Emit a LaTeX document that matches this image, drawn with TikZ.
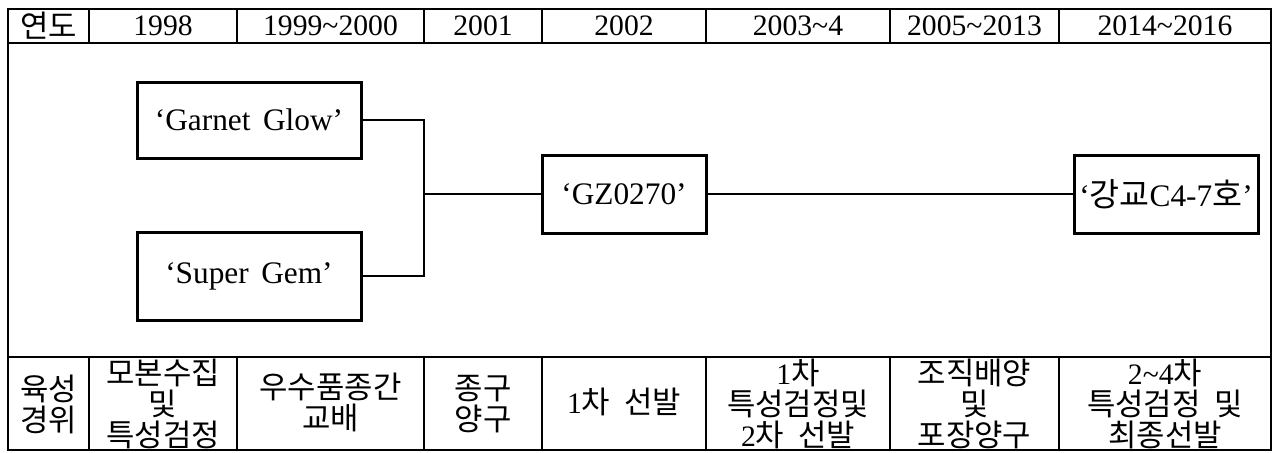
\documentclass[tikz,border=0pt]{standalone}
\usepackage{fontspec}
\setmainfont{Liberation Serif}
\newfontfamily\kr[Scale=1.04]{Noto Sans CJK KR}
\newcommand{\K}[1]{{\kr #1}}
\begin{document}
\begin{tikzpicture}[x=0.6pt,y=-0.6pt,
  grid/.style={line width=1.6pt},
  cell/.style={inner sep=0pt, align=center, font=\fontsize{17.8}{18.6}\selectfont},
  box/.style={draw, line width=1.8pt, inner sep=0pt, font=\fontsize{18.8}{20}\selectfont},
  link/.style={line width=1.6pt}]
\useasboundingbox (0,0) rectangle (1273,452);
% table frame
\draw[grid] (8,9) rectangle (1271,450);
\draw[grid] (8,43) -- (1271,43);
\draw[grid] (8,357) -- (1271,357);
\foreach \x in {89,237,424,542,706,890,1059} {
  \draw[grid] (\x,9) -- (\x,43);
  \draw[grid] (\x,357) -- (\x,450);
}
% header
\node[cell] (h0) at (48.5,26) {\K{연도}};
\node[cell] (h1) at (163,26) {1998};
\node[cell] (h2) at (330.5,26) {1999\textasciitilde2000};
\node[cell] (h3) at (483,26) {2001};
\node[cell] (h4) at (624,26) {2002};
\node[cell] (h5) at (798,26) {2003\textasciitilde4};
\node[cell] (h6) at (974.5,26) {2005\textasciitilde2013};
\node[cell] (h7) at (1165,26) {2014\textasciitilde2016};
% bottom row
\node[cell] (b0) at (48.5,404) {\K{육성}\\\K{경위}};
\node[cell] (b1) at (163,404) {\K{모본수집}\\\K{및}\\\K{특성검정}};
\node[cell] (b2) at (330.5,402) {\K{우수품종간}\\\K{교배}};
\node[cell] (b3) at (483,404) {\K{종구}\\\K{양구}};
\node[cell] (b4) at (624,402) {1\K{차\ \ 선발}};
\node[cell] (b5) at (798,404) {1\K{차}\\\K{특성검정및}\\2\K{차\ \ 선발}};
\node[cell] (b6) at (974.5,404) {\K{조직배양}\\\K{및}\\\K{포장양구}};
\node[cell] (b7) at (1165,404) {2\textasciitilde4\K{차}\\\K{특성검정\ \ 및}\\\K{최종선발}};
% boxes
\node[box, minimum width=224*0.6pt, minimum height=76*0.6pt] (gg) at (249,120) {‘Garnet\hspace{0.4em}Glow’};
\node[box, minimum width=224*0.6pt, minimum height=88*0.6pt] (sg) at (249,276) {‘Super\hspace{0.4em}Gem’};
\node[box, minimum width=164*0.6pt, minimum height=78*0.6pt] (gz) at (624,194) {‘GZ0270’};
\node[box, minimum width=184*0.6pt, minimum height=78*0.6pt] (kg) at (1166,194) {‘\K{강교}C4-7\K{호}’};
% connectors
\coordinate (j) at (424,194);
\draw[link] (gg.east) -| (j) |- (sg.east);
\draw[link] (j) -- (gz.west);
\draw[link] (gz.east) -- (kg.west);
\end{tikzpicture}
\end{document}
